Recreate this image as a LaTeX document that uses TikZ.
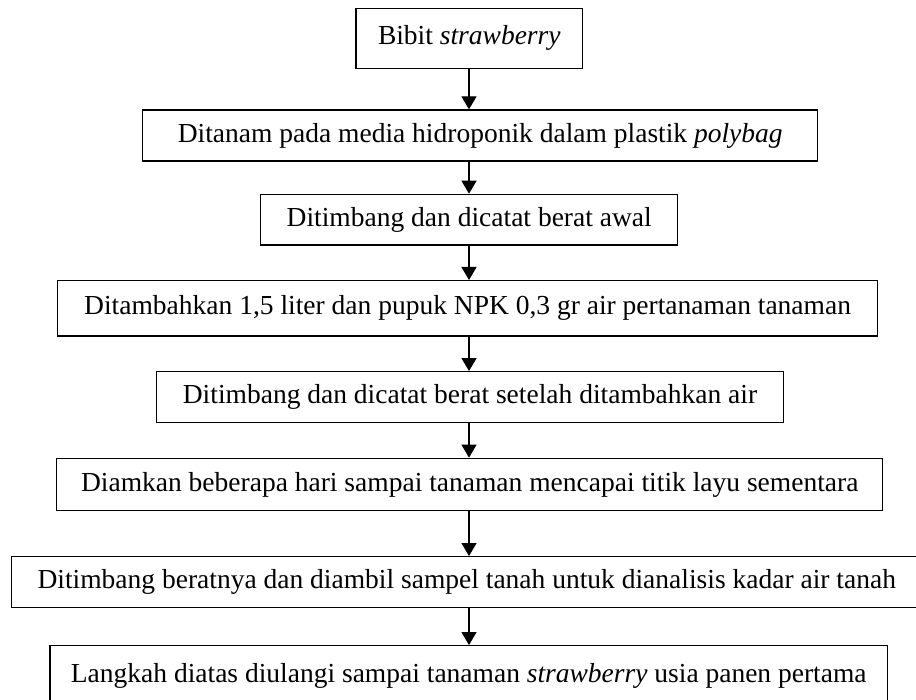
\documentclass[tikz,border=0pt]{standalone}
\usepackage{fontspec}
\setmainfont{Liberation Serif}
\usetikzlibrary{arrows.meta}
\begin{document}
\begin{tikzpicture}[x=1pt,y=-1pt,
  box/.style={draw=black,line width=1.3pt,inner sep=0pt,align=center,font=\fontsize{27.5}{33}\selectfont},
  arr/.style={line width=1.3pt,-{Triangle[width=15pt,length=13pt]}}]
\useasboundingbox (0,0) rectangle (916,700);
\coordinate (ax) at (469,0);
\node[box,minimum width=226.7pt,minimum height=60pt] (b1) at (469.3,38.3) {Bibit \textit{strawberry}};
\node[box,minimum width=675pt,minimum height=51pt] (b2) at (480.2,135.5) {Ditanam pada media hidroponik dalam plastik \textit{polybag}};
\node[box,minimum width=417pt,minimum height=50.7pt] (b3) at (469.2,219.7) {Ditimbang dan dicatat berat awal};
\node[box,minimum width=820.2pt,minimum height=55.3pt] (b4) at (467.6,308.3) {Ditambahkan 1,5 liter dan pupuk NPK 0,3 gr air pertanaman tanaman};
\node[box,minimum width=626.6pt,minimum height=51pt] (b5) at (470,397.2) {Ditimbang dan dicatat berat setelah ditambahkan air};
\node[box,minimum width=826pt,minimum height=52.4pt] (b6) at (469.7,484.5) {Diamkan beberapa hari sampai tanaman mencapai titik layu sementara};
\node[box,minimum width=920pt,minimum height=51pt] (b7) at (471.7,582.2) {\hspace*{-10pt}Ditimbang beratnya dan diambil sampel tanah untuk dianalisis kadar air tanah};
\node[box,minimum width=837.7pt,minimum height=60pt] (b8) at (468.8,675.7) {Langkah diatas diulangi sampai tanaman \textit{strawberry} usia panen pertama};
\foreach \a/\b in {b1/b2,b2/b3,b3/b4,b4/b5,b5/b6,b6/b7,b7/b8}
  \draw[arr] (\a.south -| ax) -- (\b.north -| ax);
\end{tikzpicture}
\end{document}
